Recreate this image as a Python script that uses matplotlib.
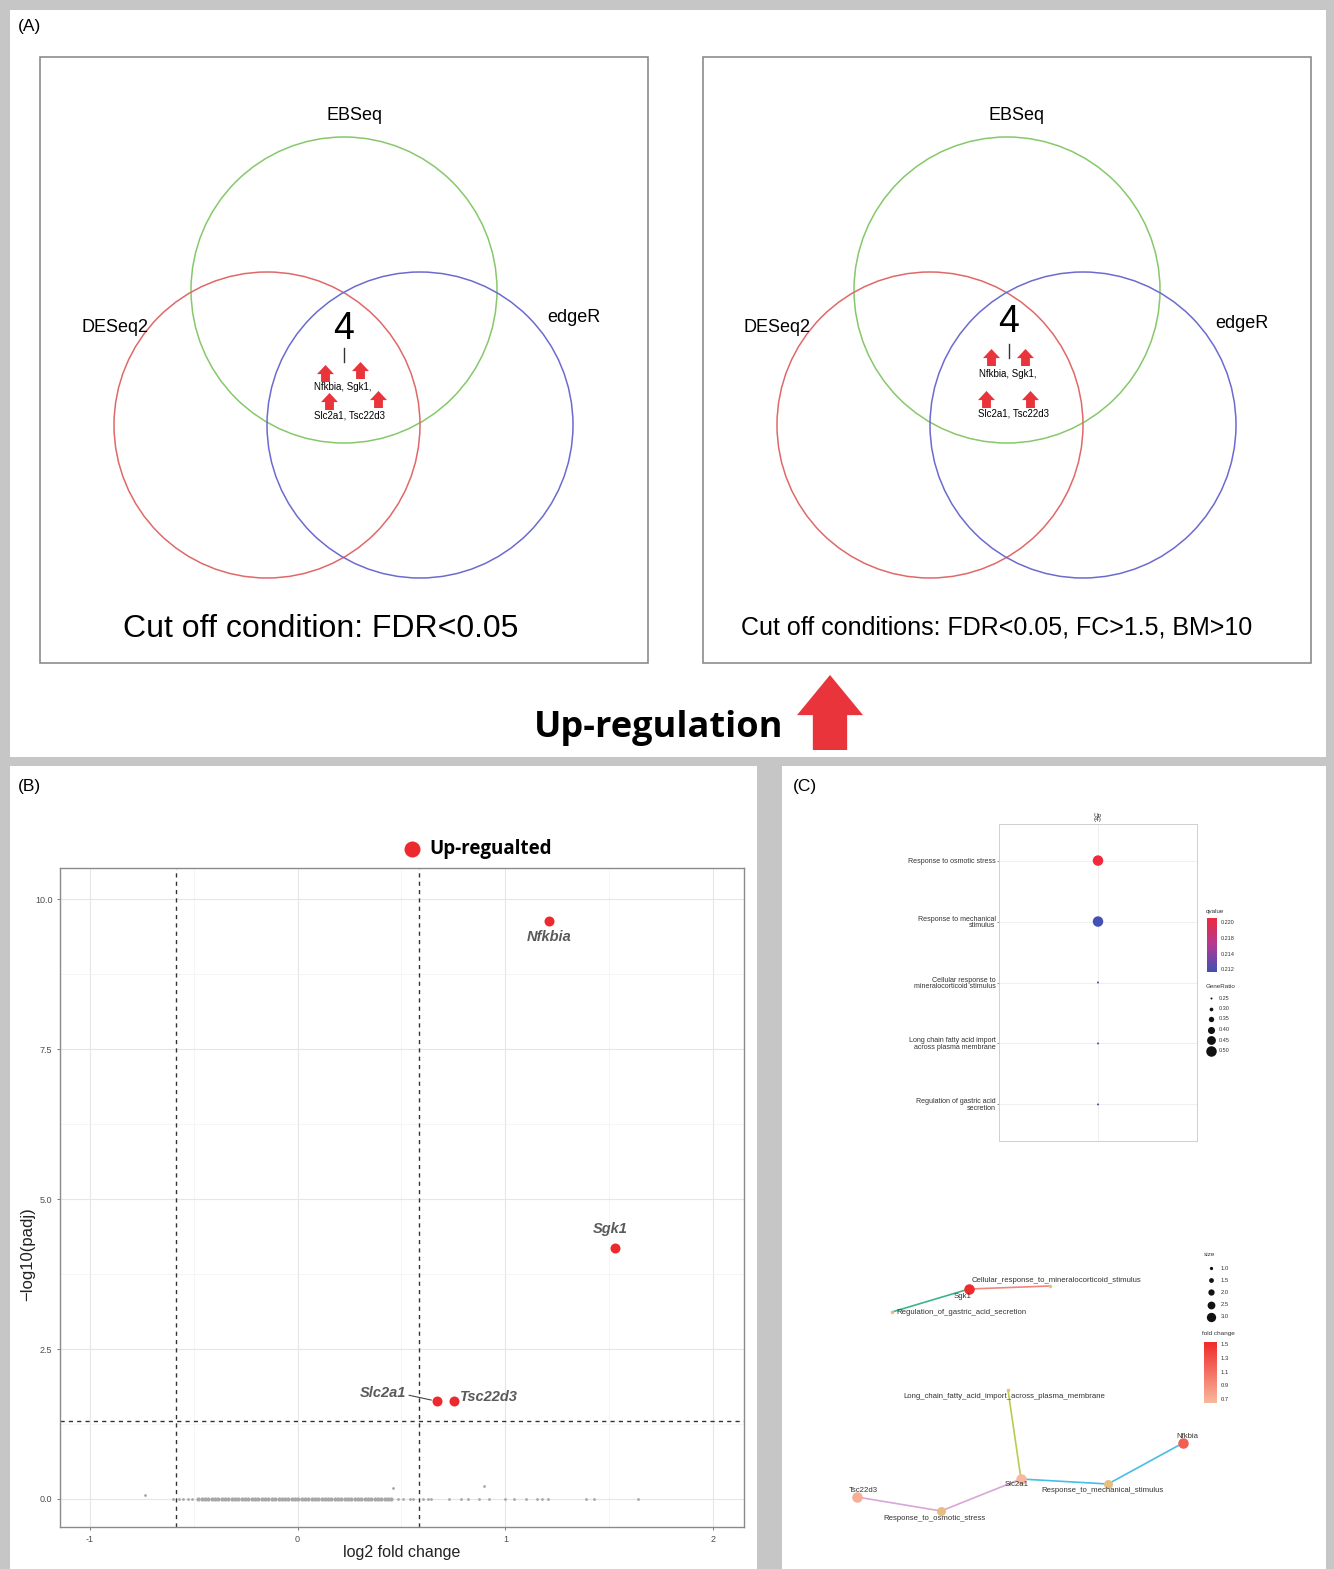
import numpy as np
import matplotlib.pyplot as plt
from matplotlib.patches import Rectangle, Circle, Polygon
from matplotlib.path import Path
from matplotlib.colors import LinearSegmentedColormap, Normalize

plt.rcParams['font.family'] = ['Liberation Sans', 'DejaVu Sans']

# -----------------------------
# DATA
# -----------------------------
venn_sets = ["EBSeq", "DESeq2", "edgeR"]
venn_common_count = 4
venn_genes_line1 = "Nfkbia, Sgk1,"
venn_genes_line2 = "Slc2a1, Tsc22d3"
venn_cutoffs = ["Cut off condition: FDR<0.05",
                "Cut off conditions: FDR<0.05, FC>1.5, BM>10"]

# volcano: significant genes
sig_genes = ["Nfkbia", "Sgk1", "Slc2a1", "Tsc22d3"]
sig_lfc = [1.21, 1.53, 0.67, 0.755]
sig_logp = [9.63, 4.18, 1.63, 1.63]

# volcano: non significant genes (padj ~ 1)
ns_lfc_dense = [-0.478, -0.462, -0.447, -0.430, -0.414, -0.398, -0.381, -0.366,
                -0.349, -0.333, -0.318, -0.301, -0.285, -0.270, -0.253, -0.237,
                -0.221, -0.205, -0.189, -0.172, -0.157, -0.141, -0.124, -0.109,
                -0.092, -0.077, -0.060, -0.044, -0.028, -0.013, 0.004, 0.019,
                0.035, 0.051, 0.067, 0.083, 0.099, 0.115, 0.131, 0.147, 0.163,
                0.179, 0.195, 0.211, 0.227, 0.243, 0.259, 0.275, 0.291, 0.307,
                0.323, 0.339, 0.355, 0.371, 0.387, 0.403, 0.419, 0.435, 0.451]
ns_lfc_sparse = [-0.736, -0.60, -0.57, -0.55, -0.53, -0.51, 0.457, 0.483, 0.505,
                 0.539, 0.554, 0.606, 0.628, 0.640, 0.729, 0.785, 0.818, 0.874,
                 0.897, 0.919, 0.997, 1.042, 1.098, 1.154, 1.176, 1.203, 1.388,
                 1.426, 1.641]
ns_logp_sparse = [0.06, 0.0, 0.0, 0.0, 0.0, 0.0, 0.19, 0.0, 0.0,
                  0.0, 0.0, 0.0, 0.0, 0.0, 0.0, 0.0, 0.0, 0.0,
                  0.21, 0.0, 0.0, 0.0, 0.0, 0.0, 0.0, 0.0, 0.0,
                  0.0, 0.0]
fc_cut = 0.585      # log2(1.5)
p_cut = 1.301       # -log10(0.05)

# GO enrichment dot plot
go_terms = ["Response to osmotic stress",
            "Response to mechanical\nstimulus",
            "Cellular response to\nmineralocorticoid stimulus",
            "Long chain fatty acid import\nacross plasma membrane",
            "Regulation of gastric acid\nsecretion"]
go_ratio = [0.50, 0.50, 0.25, 0.25, 0.25]
go_qvalue = [0.220, 0.212, 0.212, 0.212, 0.212]
q_ticks = ["0.220", "0.218", "0.214", "0.212"]
ratio_ticks = [0.25, 0.30, 0.35, 0.40, 0.45, 0.50]

# gene-concept network
net_terms = ["Response_to_osmotic_stress", "Response_to_mechanical_stimulus",
             "Cellular_response_to_mineralocorticoid_stimulus",
             "Long_chain_fatty_acid_import_across_plasma_membrane",
             "Regulation_of_gastric_acid_secretion"]
net_term_size = [2, 2, 1, 1, 1]
net_genes = ["Sgk1", "Nfkbia", "Slc2a1", "Tsc22d3"]
net_gene_fc = [1.53, 1.21, 0.67, 0.755]
net_edges = [("Response_to_osmotic_stress", "Slc2a1"),
             ("Response_to_osmotic_stress", "Tsc22d3"),
             ("Response_to_mechanical_stimulus", "Slc2a1"),
             ("Response_to_mechanical_stimulus", "Nfkbia"),
             ("Cellular_response_to_mineralocorticoid_stimulus", "Sgk1"),
             ("Long_chain_fatty_acid_import_across_plasma_membrane", "Slc2a1"),
             ("Regulation_of_gastric_acid_secretion", "Sgk1")]
size_ticks = [1.0, 1.5, 2.0, 2.5, 3.0]
fc_ticks = [1.5, 1.3, 1.1, 0.9, 0.7]

# -----------------------------
# FIGURE / LAYOUT
# -----------------------------
W, H = 1334, 1569
fig = plt.figure(figsize=(W / 100, H / 100), dpi=100)
fig.patch.set_facecolor('#c6c6c6')


def px_axes(x0, y0, x1, y1):
    return fig.add_axes([x0 / W, 1 - y1 / H, (x1 - x0) / W, (y1 - y0) / H])


def pt(px):
    return px * 0.72


# overlay axes in pixel units
ov = px_axes(0, 0, W, H)
ov.set_xlim(0, W)
ov.set_ylim(H, 0)
ov.axis('off')

for (x0, y0, x1, y1) in [(10, 10, 1326, 757), (10, 766, 757, 1569), (782, 766, 1326, 1569)]:
    ov.add_patch(Rectangle((x0, y0), x1 - x0, y1 - y0, fc='white', ec='none'))

ov.text(18, 26, "(A)", fontsize=12.5, va='center', ha='left')
ov.text(18, 786, "(B)", fontsize=12.5, va='center', ha='left')
ov.text(793, 786, "(C)", fontsize=12.5, va='center', ha='left')

# up-arrow shape (unit), reused for small markers and big arrow
arrow_xy = np.array([(0, 1), (1, -0.07), (0.52, -0.07), (0.52, -1),
                     (-0.52, -1), (-0.52, -0.07), (-1, -0.07), (0, 1)])
arrow_marker = Path(arrow_xy, closed=True)
RED = '#e8343a'

# -----------------------------
# (A) VENN DIAGRAMS
# -----------------------------
circle_layout = [(304, 233), (227, 368), (380, 368)]   # green, red, blue
circle_r = 153
circle_cols = ['#86c86a', '#e06868', '#6b6bd0']
venn_panels = [
    dict(x0=40, name_pos=[(315, 58), (75, 271), (534, 260)], count=(304, 272),
         tick=(304, 291, 305), l1=(303, 330), l2=(310, 358),
         arrows=[(285, 316), (320, 313), (289, 344), (338, 342)],
         cut=(281, 572), cut_fs=23),
    dict(x0=703, name_pos=[(314, 58), (74, 270), (539, 266)], count=(306, 265),
         tick=(306, 287, 301), l1=(305, 317), l2=(310, 357),
         arrows=[(288, 300), (322, 300), (283, 342), (327, 342)],
         cut=(294, 570), cut_fs=18),
]
for i, p in enumerate(venn_panels):
    x0, y0 = p['x0'], 57
    ov.add_patch(Rectangle((x0, y0), 608, 606, fill=False, ec='#8c8c8c', lw=1.2))
    for (cx, cy), col in zip(circle_layout, circle_cols):
        ov.add_patch(Circle((x0 + cx, y0 + cy), circle_r, fill=False, ec=col, lw=1.1))
    for name, (tx, ty) in zip(venn_sets, p['name_pos']):
        ov.text(x0 + tx, y0 + ty, name, fontsize=13, ha='center', va='center')
    ov.text(x0 + p['count'][0], y0 + p['count'][1], str(venn_common_count),
            fontsize=27, ha='center', va='center')
    tx, ta, tb = p['tick']
    ov.plot([x0 + tx, x0 + tx], [y0 + ta, y0 + tb], color='#333333', lw=1)
    ov.text(x0 + p['l1'][0], y0 + p['l1'][1], venn_genes_line1, fontsize=7,
            ha='center', va='center')
    ov.text(x0 + p['l2'][0], y0 + p['l2'][1], venn_genes_line2, fontsize=7,
            ha='center', va='center')
    ax_x = [x0 + a[0] for a in p['arrows']]
    ax_y = [y0 + a[1] for a in p['arrows']]
    ov.plot(ax_x, ax_y, ls='none', marker=arrow_marker, ms=pt(17), color=RED, mew=0)
    ov.text(x0 + p['cut'][0], y0 + p['cut'][1], venn_cutoffs[i], fontsize=p['cut_fs'],
            ha='center', va='center')

ov.text(659, 728, "Up-regulation", fontsize=26, fontweight='bold',
        family=['Open Sans', 'DejaVu Sans'], ha='center', va='center')
big = arrow_xy * np.array([33, -37.5]) + np.array([830, 712.5])
ov.add_patch(Polygon(big, closed=True, fc=RED, ec='none'))

# -----------------------------
# (B) VOLCANO PLOT
# -----------------------------
axB = px_axes(60, 868, 744, 1527)
axB.set_xlim(-1.144, 2.149)
axB.set_ylim(-0.467, 10.52)
axB.set_xticks([-1, 0, 1, 2])
axB.set_xticklabels(['-1', '0', '1', '2'])
axB.set_yticks([0, 2.5, 5, 7.5, 10])
axB.set_yticklabels(['0.0', '2.5', '5.0', '7.5', '10.0'])
axB.set_xticks([-0.5, 0.5, 1.5], minor=True)
axB.set_yticks([1.25, 3.75, 6.25, 8.75], minor=True)
axB.grid(which='major', color='#e6e6e6', lw=0.8)
axB.grid(which='minor', color='#f2f2f2', lw=0.5)
axB.set_axisbelow(True)
axB.tick_params(which='major', labelsize=6.5, labelcolor='#4d4d4d', length=2,
                color='#666666', width=0.6)
axB.tick_params(which='minor', length=0)
for s in axB.spines.values():
    s.set_color('#8a8a8a')
    s.set_linewidth(1)

for v in (-fc_cut, fc_cut):
    axB.axvline(v, color='#333333', lw=1, ls=(0, (3, 3)))
axB.axhline(p_cut, color='#333333', lw=1, ls=(0, (3, 3)))

axB.scatter(ns_lfc_dense, np.zeros(len(ns_lfc_dense)), s=pt(4.2) ** 2, color='#a8a8a8',
            lw=0, zorder=3)
axB.scatter(ns_lfc_sparse, ns_logp_sparse, s=pt(2.8) ** 2, color='#a8a8a8', lw=0, zorder=3)
axB.scatter(sig_lfc, sig_logp, s=pt(10) ** 2, color='#ec2a2e', lw=0, zorder=4)

lab_style = dict(fontsize=10.5, fontweight='bold', fontstyle='italic', color='#5a5a5a',
                 ha='center', va='center', textcoords='offset points')
offsets = {"Nfkbia": (0, -11.5), "Sgk1": (-3.6, 13.7), "Slc2a1": (-39, 5.8),
           "Tsc22d3": (25, 3)}
for g, x, y in zip(sig_genes, sig_lfc, sig_logp):
    axB.annotate(g, (x, y), xytext=offsets[g], **lab_style)
# connector for Slc2a1 label
i = sig_genes.index("Slc2a1")
axB.annotate("", (sig_lfc[i], sig_logp[i]), xytext=(-20, 4.3), textcoords='offset points',
             arrowprops=dict(arrowstyle='-', color='#444444', lw=0.8, shrinkA=0, shrinkB=4))

axB.set_xlabel("log2 fold change", fontsize=11.5, color='#222222', labelpad=1)
axB.set_ylabel("\u2212log10(padj)", fontsize=12, color='#222222')
axB.yaxis.set_label_coords((35 - 60) / 684, (1527 - 1254) / 659)

# legend
ov.plot([412], [849], ls='none', marker='o', ms=pt(16), color='#ec2a2e', mew=0)
ov.text(429, 849, "Up-regualted", fontsize=13.5, fontweight='bold',
        family=['Open Sans', 'DejaVu Sans'], ha='left', va='center')

# -----------------------------
# (C) GO DOT PLOT
# -----------------------------
q_cmap = LinearSegmentedColormap.from_list('q', ['#4251b3', '#b33a93', '#f02a3c'])
q_norm = Normalize(0.212, 0.220)


def ratio_diam(r):
    return 2 + (r - 0.25) / 0.25 * 8.5


axC = px_axes(999, 824, 1197, 1141)
axC.set_xlim(-1, 1)
axC.set_ylim(4.6, -0.6)
ypos = np.arange(len(go_terms))
axC.scatter(np.zeros(len(go_terms)), ypos,
            s=[pt(ratio_diam(r)) ** 2 for r in go_ratio],
            c=go_qvalue, cmap=q_cmap, norm=q_norm, lw=0, zorder=3)
axC.set_yticks(ypos)
axC.set_yticklabels(go_terms, fontsize=5.1, color='#333333', linespacing=0.95)
axC.set_xticks([0])
axC.set_xticklabels([])
axC.tick_params(length=1.5, width=0.5, color='#666666', pad=1)
axC.tick_params(axis='x', length=0)
axC.grid(color='#ececec', lw=0.6)
axC.set_axisbelow(True)
for s in axC.spines.values():
    s.set_color('#cfcfcf')
    s.set_linewidth(0.7)
axC.set_title("Up\n(4)", fontsize=4.6, color='#333333', pad=2, linespacing=0.9)

# qvalue colour bar
axQ = px_axes(1207, 918, 1217, 972)
axQ.imshow(np.linspace(0, 1, 100).reshape(-1, 1), cmap=q_cmap, aspect='auto', origin='lower')
axQ.axis('off')
ov.text(1206, 912, "qvalue", fontsize=4.5, color='#333333', va='center')
for k, lab in enumerate(q_ticks):
    ov.text(1221, 923 + k * 15.5, lab, fontsize=4, color='#333333', va='center')

ov.text(1206, 987, "GeneRatio", fontsize=4.5, color='#333333', va='center')
for k, r in enumerate(ratio_ticks):
    yy = 998 + k * 10.5
    ov.plot([1211], [yy], ls='none', marker='o', ms=pt(ratio_diam(r)), color='#111111', mew=0)
    ov.text(1219, yy, f"{r:.2f}", fontsize=4, color='#333333', va='center')

# -----------------------------
# (C) GENE-CONCEPT NETWORK
# -----------------------------
node_pos = {
    "Sgk1": (969, 1289), "Nfkbia": (1183, 1443), "Slc2a1": (1021, 1479),
    "Tsc22d3": (857, 1497),
    "Response_to_osmotic_stress": (941, 1511),
    "Response_to_mechanical_stimulus": (1108, 1484),
    "Cellular_response_to_mineralocorticoid_stimulus": (1050, 1286),
    "Long_chain_fatty_acid_import_across_plasma_membrane": (1008, 1390),
    "Regulation_of_gastric_acid_secretion": (892, 1312),
}
label_pos = {
    "Sgk1": (963, 1296, 'center'), "Nfkbia": (1187, 1437, 'center'),
    "Slc2a1": (1017, 1485, 'center'), "Tsc22d3": (863, 1491, 'center'),
    "Response_to_osmotic_stress": (935, 1518, 'center'),
    "Response_to_mechanical_stimulus": (1103, 1490, 'center'),
    "Cellular_response_to_mineralocorticoid_stimulus": (1056, 1280, 'center'),
    "Long_chain_fatty_acid_import_across_plasma_membrane": (1004, 1397, 'center'),
    "Regulation_of_gastric_acid_secretion": (896, 1313, 'left'),
}
edge_cols = {
    "Response_to_osmotic_stress": '#d9a6d8',
    "Response_to_mechanical_stimulus": '#47bde8',
    "Cellular_response_to_mineralocorticoid_stimulus": '#f2857f',
    "Long_chain_fatty_acid_import_across_plasma_membrane": '#bccb4c',
    "Regulation_of_gastric_acid_secretion": '#3db38c',
}
fc_cmap = LinearSegmentedColormap.from_list('fc', ['#f9b79c', '#ef2b2b'])
fc_norm = Normalize(0.7, 1.5)


def size_diam(v):
    return 3.3 + (v - 1) / 2 * 6


for t, g in net_edges:
    (xa, ya), (xb, yb) = node_pos[t], node_pos[g]
    ov.plot([xa, xb], [ya, yb], color=edge_cols[t], lw=1.2, zorder=2)
for t, sz in zip(net_terms, net_term_size):
    x, y = node_pos[t]
    ov.scatter([x], [y], s=pt(9 if sz > 1 else 3.5) ** 2, color='#e5bf82',
               lw=0, zorder=3)
for g, fcv in zip(net_genes, net_gene_fc):
    x, y = node_pos[g]
    ov.scatter([x], [y], s=pt(10.5) ** 2, color=fc_cmap(fc_norm(fcv)), lw=0, zorder=3)
for n, (lx, ly, ha) in label_pos.items():
    ov.text(lx, ly, n, fontsize=5.6, color='#333333', ha=ha, va='center', zorder=4)

ov.text(1204, 1255, "size", fontsize=4.6, color='#333333', va='center')
for k, v in enumerate(size_ticks):
    yy = 1268 + k * 12.2
    ov.plot([1211], [yy], ls='none', marker='o', ms=pt(size_diam(v)), color='#111111', mew=0)
    ov.text(1221, yy, f"{v:.1f}", fontsize=4.2, color='#333333', va='center')

ov.text(1202, 1333, "fold change", fontsize=4.6, color='#333333', va='center')
axF = px_axes(1204, 1342, 1217, 1403)
axF.imshow(np.linspace(0, 1, 100).reshape(-1, 1), cmap=fc_cmap, aspect='auto', origin='lower')
axF.axis('off')
for k, v in enumerate(fc_ticks):
    ov.text(1221, 1345 + k * 13.6, f"{v:.1f}", fontsize=4.2, color='#333333', va='center')

plt.savefig("out.png", dpi=100, facecolor=fig.get_facecolor())
